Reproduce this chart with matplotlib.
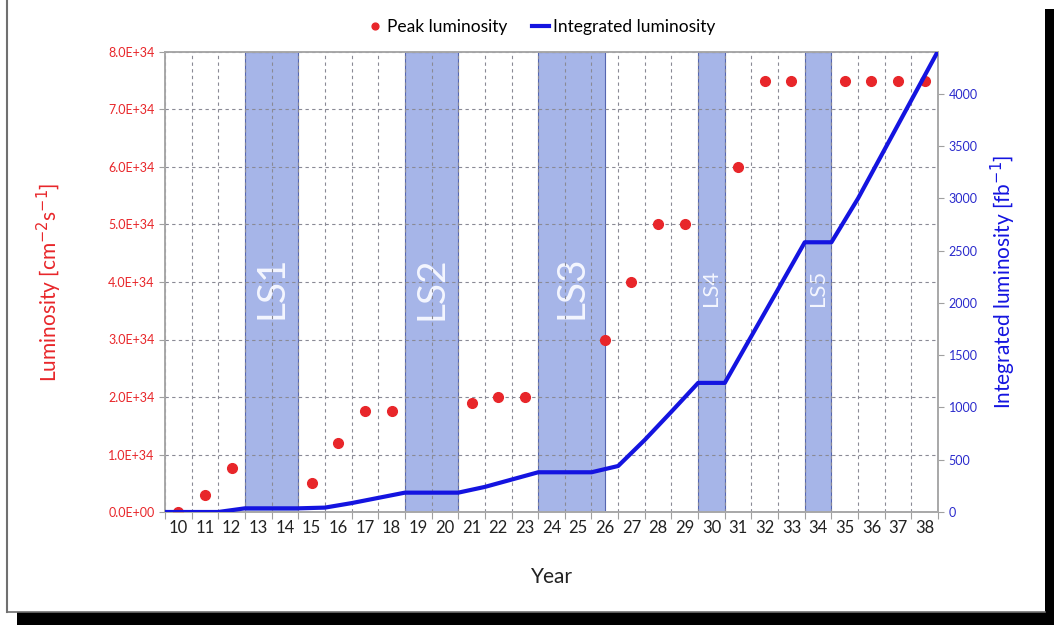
import matplotlib.pyplot as plt
import numpy as np
from matplotlib.patches import Rectangle
from matplotlib.lines import Line2D
from matplotlib.ticker import FuncFormatter, MultipleLocator

plt.rcParams['font.family'] = ['Lato', 'DejaVu Sans']

# data
years = list(range(10, 39))
peak_years = [10, 11, 12, 15, 16, 17, 18, 21, 22, 23, 26, 27, 28, 29, 31, 32, 33, 35, 36, 37, 38]
peak_lumi = [0.0, 0.3e34, 0.77e34, 0.5e34, 1.2e34, 1.75e34, 1.75e34, 1.9e34, 2.0e34, 2.0e34,
             3.0e34, 4.0e34, 5.0e34, 5.0e34, 6.0e34, 7.5e34, 7.5e34, 7.5e34, 7.5e34, 7.5e34, 7.5e34]
int_x = [9.5, 11.5, 12.5, 14.5, 15.5, 16.5, 17.5, 18.5, 20.5, 21.5, 22.5, 23.5, 25.5, 26.5,
         27.5, 28.5, 29.5, 30.5, 31.5, 32.5, 33.5, 34.5, 35.5, 36.5, 37.5, 38.5]
int_lumi = [0, 0, 35, 35, 42, 85, 135, 185, 185, 240, 310, 380, 380, 440,
            690, 960, 1235, 1235, 1683, 2131, 2580, 2580, 3000, 3470, 3940, 4410]
shutdowns = ['LS1', 'LS2', 'LS3', 'LS4', 'LS5']
ls_start = [12.5, 18.5, 23.5, 29.5, 33.5]
ls_end = [14.5, 20.5, 26.0, 30.5, 34.5]
ls_fsize = [28, 28, 28, 16, 16]

red = '#e8262a'
blue = '#1414e0'

fig = plt.figure(figsize=(10.54, 6.25), dpi=100)
ax = fig.add_axes([0.1565, 0.1808, 0.7335, 0.736])
ax2 = ax.twinx()

ax.set_xlim(9.5, 38.5)
ax.set_ylim(0, 8e34)
ax2.set_ylim(0, 4400)

# long shutdown boxes
for name, a, b, fs in zip(shutdowns, ls_start, ls_end, ls_fsize):
    ax.axvspan(a, b, facecolor='#a6b5e8', edgecolor='#5666b0', lw=0.8, zorder=1)
    ax.text((a + b) / 2, 3.9e34, name, rotation=90, ha='center', va='center',
            fontsize=fs, color='#f4f6ff', zorder=2)

# grid
ax.set_xticks(np.arange(9.5, 38.6, 1))
ax.set_xticklabels([])
ax.set_xticks(years, minor=True)
ax.set_xticklabels([str(y) for y in years], minor=True)
ax.tick_params(axis='x', which='minor', length=0, labelsize=12, colors='#222222', pad=6)
ax.tick_params(axis='x', which='major', length=5, color='#a0a0a0')
ax.yaxis.set_major_locator(MultipleLocator(1e34))
ax.yaxis.set_major_formatter(FuncFormatter(lambda v, p: f'{v:.1E}'))
ax.tick_params(axis='y', labelsize=9, labelcolor=red, length=4, color='#a0a0a0')
ax.grid(True, which='major', linestyle=(0, (3, 3)), color='#8a8a95', lw=0.8, zorder=3)
ax.set_axisbelow(False)

ax2.yaxis.set_major_locator(MultipleLocator(500))
ax2.tick_params(axis='y', labelsize=9, labelcolor='#2a2acc', length=4, color='#a0a0a0')

for a in (ax, ax2):
    for s in a.spines.values():
        s.set_color('#a8a8a8')
        s.set_linewidth(1.2)

# series
ax.plot(peak_years, peak_lumi, 'o', color=red, ms=7, zorder=5, label='Peak luminosity')
ax2.plot(int_x, int_lumi, '-', color=blue, lw=3, zorder=5, label='Integrated luminosity')

ax.set_xlabel('Year', fontsize=15, color='#222222', labelpad=22)
ax.set_ylabel('Luminosity [cm$^{-2}$s$^{-1}$]', fontsize=15, color=red, labelpad=32)
ax2.set_ylabel('Integrated luminosity [fb$^{-1}$]', fontsize=15, color=blue, labelpad=8)

h1, l1 = ax.get_legend_handles_labels()
h2, l2 = ax2.get_legend_handles_labels()
fig.legend(h1 + h2, l1 + l2, loc='upper center', bbox_to_anchor=(0.513, 0.995), ncol=2,
           frameon=False, fontsize=12.5, handlelength=1.0, handletextpad=0.2, columnspacing=1.4,
           markerscale=0.7)

# screenshot frame and shadow
W, H = 1054, 625
fig.add_artist(Line2D([7 / W, 7 / W], [1, 1 - 612 / H], color='#707070', lw=1.5))
fig.add_artist(Line2D([7 / W, 1045 / W], [1 - 612 / H, 1 - 612 / H], color='#707070', lw=1.2))
fig.add_artist(Rectangle((17 / W, 0), 1 - 17 / W, 13 / H, color='black', lw=0))
fig.add_artist(Rectangle((1045 / W, 0), 9 / W, 1 - 9 / H, color='black', lw=0))

plt.savefig('out.png', dpi=100)
plt.close()
